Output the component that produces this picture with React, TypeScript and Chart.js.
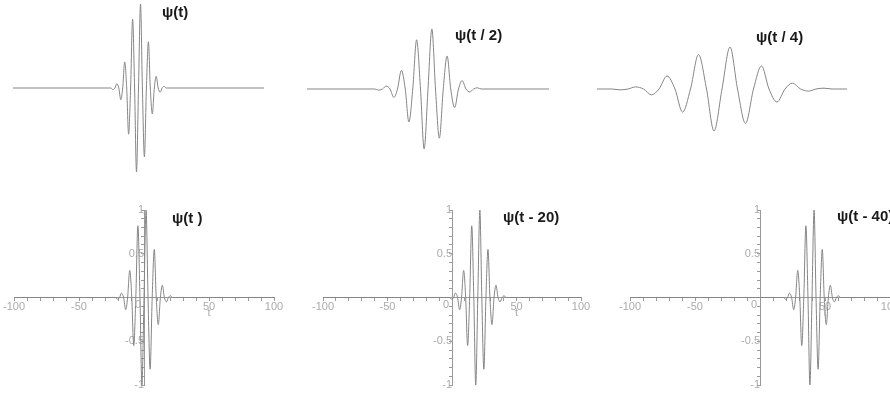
import React, { useEffect, useRef } from 'react';
import { Chart, registerables } from 'chart.js';

Chart.register(...registerables);

// wavelet amplitudes read at extrema / zero crossings (same wavelet in every panel)
const psiValues = [0, 0, -0.02, 0, 0.05, 0, -0.14, 0, 0.31, 0, -0.55, 0, 0.82, 0, -1.0, 0, 1.0, 0, -0.82, 0, 0.55, 0, -0.31, 0, 0.14, 0, -0.05, 0, 0.02, 0, 0];

// time positions of those points, per panel
const tPsi = [-100, -22.0, -20.4, -18.8, -17.3, -15.7, -14.1, -12.6, -11.0, -9.4, -7.9, -6.3, -4.7, -3.1, -1.6, 0, 1.6, 3.1, 4.7, 6.3, 7.9, 9.4, 11.0, 12.6, 14.1, 15.7, 17.3, 18.8, 20.4, 22.0, 100];
const tPsiHalf = [-100, -44.0, -40.8, -37.6, -34.6, -31.4, -28.2, -25.2, -22.0, -18.8, -15.8, -12.6, -9.4, -6.2, -3.2, 0, 3.2, 6.2, 9.4, 12.6, 15.8, 18.8, 22.0, 25.2, 28.2, 31.4, 34.6, 37.6, 40.8, 44.0, 100];
const tPsiQuarter = [-100, -88.0, -81.6, -75.2, -69.2, -62.8, -56.4, -50.4, -44.0, -37.6, -31.6, -25.2, -18.8, -12.4, -6.4, 0, 6.4, 12.4, 18.8, 25.2, 31.6, 37.6, 44.0, 50.4, 56.4, 62.8, 69.2, 75.2, 81.6, 88.0, 100];
const tShift20 = [-100, -2.0, -0.4, 1.2, 2.7, 4.3, 5.9, 7.4, 9.0, 10.6, 12.1, 13.7, 15.3, 16.9, 18.4, 20, 21.6, 23.1, 24.7, 26.3, 27.9, 29.4, 31.0, 32.6, 34.1, 35.7, 37.3, 38.8, 40.4, 42.0, 100];
const tShift40 = [-100, 18.0, 19.6, 21.2, 22.7, 24.3, 25.9, 27.4, 29.0, 30.6, 32.1, 33.7, 35.3, 36.9, 38.4, 40, 41.6, 43.1, 44.7, 46.3, 47.9, 49.4, 51.0, 52.6, 54.1, 55.7, 57.3, 58.8, 60.4, 62.0, 100];

const titles = ['ψ(t)', 'ψ(t / 2)', 'ψ(t / 4)', 'ψ(t )', 'ψ(t - 20)', 'ψ(t - 40)'];
const xLabelTicks = [-100, -50, 50, 100];
const yLabelTicks = [-1, -0.5, 0.5, 1];
const xAxisTitle = 't';

type PanelCfg = {
  t: number[];
  title: string;
  axes: boolean;
  left: number; top: number; width: number; height: number;
  pad: { left: number; right: number; top: number; bottom: number };
  titleX: number; titleY: number;
};

const panels: PanelCfg[] = [
  { t: tPsi, title: titles[0], axes: false, left: 0, top: 0, width: 295, height: 180, pad: { left: 13, right: 31, top: 4, bottom: 8 }, titleX: 162, titleY: 13 },
  { t: tPsiHalf, title: titles[1], axes: false, left: 295, top: 0, width: 295, height: 180, pad: { left: 12, right: 41, top: 29, bottom: 31 }, titleX: 455, titleY: 36 },
  { t: tPsiQuarter, title: titles[2], axes: false, left: 590, top: 0, width: 300, height: 180, pad: { left: 7, right: 43, top: 47, bottom: 49 }, titleX: 756, titleY: 38 },
  { t: tPsi, title: titles[3], axes: true, left: 0, top: 195, width: 295, height: 201, pad: { left: 14, right: 21, top: 15, bottom: 11 }, titleX: 172, titleY: 219 },
  { t: tShift20, title: titles[4], axes: true, left: 300, top: 195, width: 295, height: 201, pad: { left: 23, right: 14, top: 15, bottom: 11 }, titleX: 503, titleY: 218 },
  { t: tShift40, title: titles[5], axes: true, left: 600, top: 195, width: 310, height: 201, pad: { left: 30, right: 20, top: 15, bottom: 11 }, titleX: 837, titleY: 217 },
];

const AXIS = '#9a9a9a';
const LABEL = '#ababab';
const CURVE = '#858585';

function Panel({ cfg }: { cfg: PanelCfg }) {
  const ref = useRef<HTMLCanvasElement | null>(null);
  useEffect(() => {
    const canvas = ref.current;
    if (!canvas) return;
    const overlay = {
      id: 'overlay',
      afterDraw(chart: any) {
        const ctx = chart.ctx;
        ctx.save();
        if (cfg.axes) {
          const xs = chart.scales.x;
          const ys = chart.scales.y;
          const x0 = xs.getPixelForValue(0);
          const y0 = ys.getPixelForValue(0);
          ctx.font = '11px "Liberation Sans"';
          ctx.fillStyle = LABEL;
          ctx.textBaseline = 'middle';
          ctx.textAlign = 'right';
          ctx.fillText('0', x0 - 3, y0 + 7);
          ctx.textAlign = 'center';
          ctx.fillText(xAxisTitle, xs.getPixelForValue(50), y0 + 15);
        }
        ctx.font = 'bold 15px "Liberation Sans"';
        ctx.fillStyle = '#1a1a1a';
        ctx.textAlign = 'left';
        ctx.textBaseline = 'middle';
        ctx.fillText(cfg.title, cfg.titleX - cfg.left, cfg.titleY - cfg.top);
        ctx.restore();
      },
    };
    const tickGrid = {
      display: true,
      drawOnChartArea: false,
      drawTicks: true,
      tickLength: 3,
      color: AXIS,
      lineWidth: 1,
    };
    const chart = new Chart(canvas, {
      type: 'line',
      data: {
        datasets: [
          {
            data: cfg.t.map((x, i) => ({ x, y: psiValues[i] })),
            borderColor: CURVE,
            borderWidth: 1,
            pointRadius: 0,
            cubicInterpolationMode: 'monotone',
            fill: false,
            clip: false as any,
          },
        ],
      },
      options: {
        responsive: false,
        animation: false,
        events: [],
        layout: { padding: cfg.pad },
        plugins: { legend: { display: false }, tooltip: { enabled: false }, title: { display: false } },
        scales: {
          x: {
            type: 'linear',
            min: -100,
            max: 100,
            display: cfg.axes,
            position: cfg.axes ? ({ y: 0 } as any) : 'bottom',
            grid: tickGrid as any,
            border: { display: true, color: AXIS, width: 1 },
            ticks: {
              stepSize: 10,
              autoSkip: false,
              maxRotation: 0,
              padding: 0,
              color: LABEL,
              font: { family: 'Liberation Sans', size: 11 },
              callback: (v: any) => (xLabelTicks.includes(Number(v)) ? String(v) : ''),
            },
          },
          y: {
            type: 'linear',
            min: -1,
            max: 1,
            display: cfg.axes,
            position: cfg.axes ? ({ x: 0 } as any) : 'left',
            grid: tickGrid as any,
            border: { display: true, color: AXIS, width: 1 },
            ticks: {
              stepSize: 0.1,
              autoSkip: false,
              padding: 1,
              color: LABEL,
              font: { family: 'Liberation Sans', size: 11 },
              callback: (v: any) => {
                const n = Number(v);
                const hit = yLabelTicks.find((k) => Math.abs(k - n) < 1e-6);
                return hit === undefined ? '' : String(hit);
              },
            },
          },
        },
      },
      plugins: [overlay],
    });
    return () => chart.destroy();
  }, [cfg]);
  return (
    <canvas
      ref={ref}
      width={cfg.width}
      height={cfg.height}
      style={{ position: 'absolute', left: cfg.left, top: cfg.top, width: cfg.width, height: cfg.height }}
    />
  );
}

export default function App() {
  return (
    <div style={{ position: 'absolute', left: 0, top: 0, width: 890, height: 396, overflow: 'hidden', background: '#ffffff' }}>
      {panels.map((p, i) => (
        <Panel key={i} cfg={p} />
      ))}
    </div>
  );
}
